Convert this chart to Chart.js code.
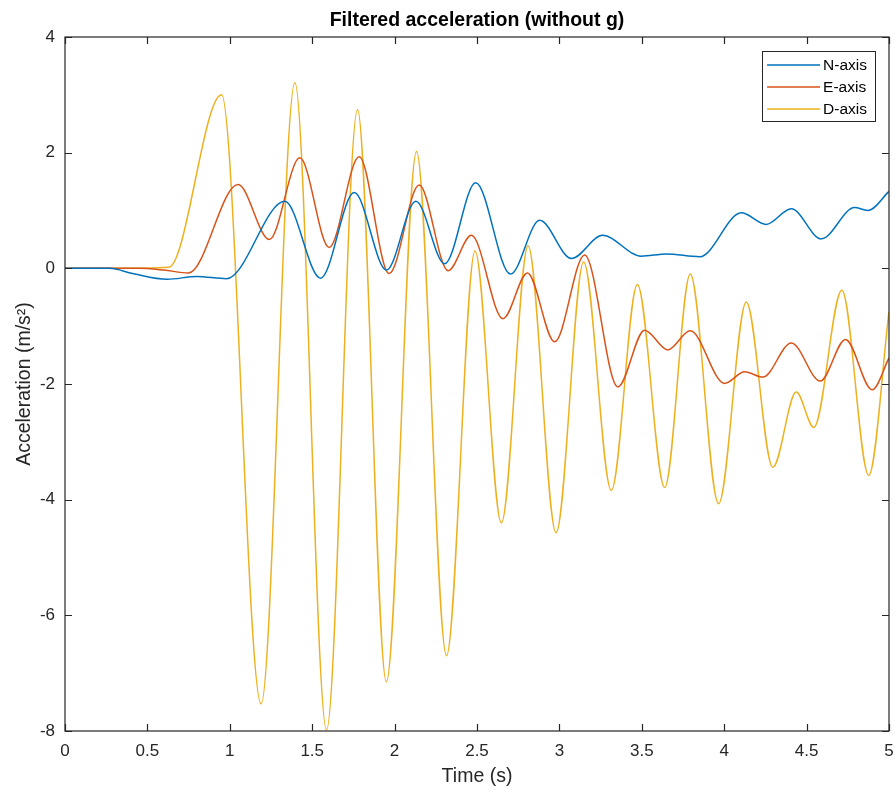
<!DOCTYPE html>
<html lang="en">
<head>
  <meta charset="UTF-8" />
  <title>Filtered acceleration (without g)</title>
  <script src="https://cdn.jsdelivr.net/npm/chart.js"></script>
  <style>
    html, body {
      margin: 0;
      padding: 0;
      background: #fff;
    }

    #wrap {
      position: relative;
      width: 895px;
      height: 789px;
    }
  </style>
</head>
<body>

  <div id="wrap">
    <canvas id="accChart"></canvas>
  </div>

  <script>
    // filtered acceleration per axis: time (s) and value (m/s^2)
    const nTime  = [0, 0.27, 0.41, 0.62, 0.80, 0.98, 1.334, 1.551, 1.755, 1.951, 2.129, 2.304, 2.492, 2.703,
                    2.880, 3.073, 3.261, 3.497, 3.649, 3.851, 4.104, 4.255, 4.407, 4.589, 4.791, 4.872, 5.0];
    const nAccel = [0, 0, -0.09, -0.19, -0.14, -0.18, 1.16, -0.17, 1.31, -0.03, 1.16, 0.08, 1.48, -0.10,
                    0.83, 0.17, 0.57, 0.21, 0.25, 0.20, 0.96, 0.76, 1.03, 0.51, 1.05, 1.00, 1.33];

    const eTime  = [0, 0.45, 0.60, 0.75, 1.05, 1.24, 1.425, 1.603, 1.785, 1.967, 2.149, 2.325, 2.466, 2.658,
                    2.806, 2.971, 3.153, 3.355, 3.517, 3.658, 3.794, 4.002, 4.124, 4.235, 4.407, 4.583,
                    4.736, 4.898, 5.0];
    const eAccel = [0, 0, -0.03, -0.08, 1.45, 0.50, 1.91, 0.36, 1.93, -0.09, 1.44, -0.04, 0.57, -0.87,
                    -0.08, -1.27, 0.23, -2.05, -1.07, -1.41, -1.08, -1.99, -1.79, -1.88, -1.29, -1.95,
                    -1.23, -2.10, -1.55];

    const dTime  = [0, 0.30, 0.63, 0.95, 1.19, 1.395, 1.587, 1.775, 1.95, 2.133, 2.315, 2.488, 2.648, 2.81,
                    2.98, 3.147, 3.315, 3.473, 3.639, 3.794, 3.966, 4.134, 4.295, 4.437, 4.544, 4.714,
                    4.877, 5.0];
    const dAccel = [0, 0, 0.02, 3.00, -7.53, 3.21, -7.98, 2.74, -7.15, 2.02, -6.70, 0.30, -4.40, 0.39,
                    -4.57, 0.11, -3.84, -0.28, -3.79, -0.10, -4.07, -0.58, -3.44, -2.14, -2.75, -0.38,
                    -3.58, -0.75];

    const seriesNames  = ['N-axis', 'E-axis', 'D-axis'];
    const seriesColors = ['#0072bd', '#d95319', '#edb120'];

    const xTicks = [0, 0.5, 1, 1.5, 2, 2.5, 3, 3.5, 4, 4.5, 5];
    const yTicks = [-8, -6, -4, -2, 0, 2, 4];

    const FONT = "'Liberation Sans', Arial, Helvetica, sans-serif";
    const AXIS_COLOR = '#262626';

    function toPoints(ts, vs) {
      return ts.map((t, i) => ({ x: t, y: vs[i] }));
    }

    // matlab-like box with inward tick marks on all four sides
    const boxPlugin = {
      id: 'matlabBox',
      afterDatasetsDraw(chart) {
        const { ctx, chartArea: a, scales: { x, y } } = chart;
        const len = 7;
        ctx.save();
        ctx.strokeStyle = AXIS_COLOR;
        ctx.lineWidth = 1.2;
        ctx.strokeRect(a.left, a.top, a.right - a.left, a.bottom - a.top);
        ctx.beginPath();
        xTicks.forEach(v => {
          const px = Math.round(x.getPixelForValue(v)) + 0.5;
          ctx.moveTo(px, a.bottom); ctx.lineTo(px, a.bottom - len);
          ctx.moveTo(px, a.top);    ctx.lineTo(px, a.top + len);
        });
        yTicks.forEach(v => {
          const py = Math.round(y.getPixelForValue(v)) + 0.5;
          ctx.moveTo(a.left, py);  ctx.lineTo(a.left + len, py);
          ctx.moveTo(a.right, py); ctx.lineTo(a.right - len, py);
        });
        ctx.stroke();
        ctx.restore();
      }
    };

    // legend box in the upper right corner of the plot area
    const cornerLegend = {
      id: 'cornerLegend',
      afterDraw(chart) {
        const { ctx, chartArea: a } = chart;
        const sets = chart.data.datasets;
        ctx.save();
        ctx.font = '15.5px ' + FONT;
        const textW = Math.max(...sets.map(d => ctx.measureText(d.label).width));
        const w = 61 + textW + 8;
        const h = 70;
        const left = a.right - 14 - w;
        const top = a.top + 14;
        ctx.fillStyle = '#fff';
        ctx.fillRect(left, top, w, h);
        ctx.strokeStyle = AXIS_COLOR;
        ctx.lineWidth = 1;
        ctx.strokeRect(Math.round(left) + 0.5, Math.round(top) + 0.5, Math.round(w), h);
        sets.forEach((d, i) => {
          const yy = top + 14 + i * 22;
          ctx.strokeStyle = d.borderColor;
          ctx.lineWidth = 1.5;
          ctx.beginPath();
          ctx.moveTo(left + 5, yy);
          ctx.lineTo(left + 58, yy);
          ctx.stroke();
          ctx.fillStyle = '#000';
          ctx.textBaseline = 'middle';
          ctx.textAlign = 'left';
          ctx.fillText(d.label, left + 61, yy + 1);
        });
        ctx.restore();
      }
    };

    const ctx = document.getElementById('accChart').getContext('2d');

    new Chart(ctx, {
      type: 'line',
      data: {
        datasets: [
          { label: seriesNames[0], data: toPoints(nTime, nAccel), borderColor: seriesColors[0] },
          { label: seriesNames[1], data: toPoints(eTime, eAccel), borderColor: seriesColors[1] },
          { label: seriesNames[2], data: toPoints(dTime, dAccel), borderColor: seriesColors[2] }
        ]
      },
      options: {
        responsive: true,
        maintainAspectRatio: false,
        animation: false,
        layout: {
          padding: { top: 0, right: 6, bottom: 0, left: 0 }
        },
        elements: {
          line: {
            borderWidth: 1.5,
            fill: false,
            cubicInterpolationMode: 'monotone'
          },
          point: {
            radius: 0,
            hoverRadius: 0
          }
        },
        scales: {
          x: {
            type: 'linear',
            min: 0,
            max: 5,
            afterBuildTicks: s => { s.ticks = xTicks.map(v => ({ value: v })); },
            afterFit: s => {
              s.height = 58;
              s.paddingLeft = 0;
              s.paddingRight = 0;
            },
            grid: { display: false, drawTicks: false },
            border: { display: false },
            ticks: {
              padding: 10,
              color: AXIS_COLOR,
              maxRotation: 0,
              callback: v => String(v),
              font: { family: FONT, size: 17 }
            },
            title: {
              display: true,
              text: 'Time (s)',
              color: AXIS_COLOR,
              font: { family: FONT, size: 19.5 },
              padding: { top: 0, bottom: 1 }
            }
          },
          y: {
            type: 'linear',
            min: -8,
            max: 4,
            afterBuildTicks: s => { s.ticks = yTicks.map(v => ({ value: v })); },
            afterFit: s => { s.width = 65; },
            grid: { display: false, drawTicks: false },
            border: { display: false },
            ticks: {
              padding: 10,
              color: AXIS_COLOR,
              callback: v => String(v),
              font: { family: FONT, size: 17 }
            },
            title: {
              display: true,
              text: 'Acceleration (m/s²)',
              color: AXIS_COLOR,
              font: { family: FONT, size: 19.5 },
              padding: { top: 13, bottom: 0 }
            }
          }
        },
        plugins: {
          legend: { display: false },
          tooltip: { enabled: false },
          title: {
            display: true,
            fullSize: false,
            text: 'Filtered acceleration (without g)',
            color: '#000',
            font: { family: FONT, size: 19.5, weight: 'bold' },
            padding: { top: 9, bottom: 4.6 }
          }
        }
      },
      plugins: [boxPlugin, cornerLegend]
    });
  </script>

</body>
</html>
